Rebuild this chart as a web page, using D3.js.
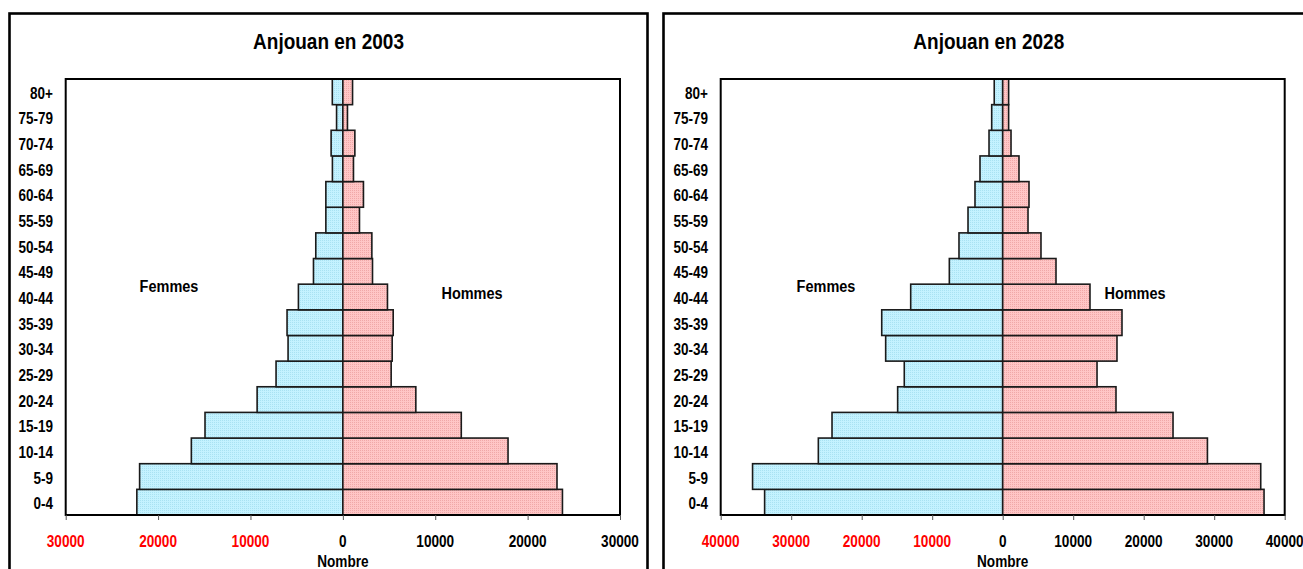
<!DOCTYPE html>
<html>
<head>
<meta charset="utf-8">
<script src="https://cdnjs.cloudflare.com/ajax/libs/d3/7.8.5/d3.min.js"></script>
<style>
  html, body { margin: 0; padding: 0; background: #fff; }
  svg { display: block; }
  text { font-family: "Liberation Sans", Arial, sans-serif; font-weight: bold; }
</style>
</head>
<body>
<svg id="chart" width="1303" height="569"></svg>
<script>
// ---- Data ----
const ageGroups = ["0-4","5-9","10-14","15-19","20-24","25-29","30-34","35-39","40-44","45-49","50-54","55-59","60-64","65-69","70-74","75-79","80+"];
const femmes2003 = [22300, 22000, 16400, 14920, 9280, 7230, 5930, 6040, 4810, 3180, 2930, 1840, 1840, 1130, 1270, 680, 1140];
const hommes2003 = [23770, 23180, 17880, 12820, 7900, 5230, 5340, 5450, 4830, 3210, 3140, 1800, 2230, 1150, 1300, 500, 1050];
const femmes2028 = [33770, 35480, 26150, 24210, 14900, 13960, 16600, 17160, 13050, 7570, 6200, 4920, 3930, 3220, 1940, 1560, 1200];
const hommes2028 = [37070, 36600, 29040, 24160, 16070, 13380, 16210, 16920, 12380, 7560, 5430, 3590, 3730, 2310, 1180, 840, 840];
const titles = ["Anjouan en 2003", "Anjouan en 2028"];
const axisMax = [30000, 40000];
const tickStep = 10000;
const labelFemmes = "Femmes", labelHommes = "Hommes", labelAxis = "Nombre";

const svg = d3.select("#chart");
const S = 1.2; // vertical stretch of text seen in the reference

// patterns
const defs = svg.append("defs");
function pattern(id, base, dot) {
  const p = defs.append("pattern").attr("id", id).attr("width", 2).attr("height", 2)
    .attr("patternUnits", "userSpaceOnUse");
  p.append("rect").attr("width", 2).attr("height", 2).attr("fill", base);
  p.append("rect").attr("width", 1).attr("height", 1).attr("fill", dot);
}
pattern("pF", "#c4f2ff", "#a9e2f2");
pattern("pH", "#ffc6c6", "#f0a8a8");

function stext(g, x, y, str, size, anchor, fill) {
  return g.append("text")
    .attr("transform", `translate(${x},${y}) scale(1,${S})`)
    .attr("text-anchor", anchor || "middle")
    .attr("font-size", size)
    .attr("fill", fill || "#000")
    .text(str);
}

const panels = [
  { frame: [9.5, 647.5], plot: [65.7, 620], max: axisMax[0], title: titles[0],
    f: femmes2003, h: hommes2003, femmesX: 169, hommesX: 472 },
  { frame: [663.5, 1314], plot: [720.7, 1284.7], max: axisMax[1], title: titles[1],
    f: femmes2028, h: hommes2028, femmesX: 826, hommesX: 1135 }
];
const plotTop = 79, plotBottom = 515;

panels.forEach(p => {
  const g = svg.append("g");
  // outer frame
  g.append("rect")
    .attr("x", p.frame[0]).attr("y", 13.5)
    .attr("width", p.frame[1] - p.frame[0]).attr("height", 600)
    .attr("fill", "#fff").attr("stroke", "#000").attr("stroke-width", 2.6);

  const x = d3.scaleLinear().domain([-p.max, p.max]).range(p.plot);
  const y = d3.scaleBand().domain(ageGroups.slice().reverse()).range([plotTop, plotBottom]).padding(0);

  // title
  stext(g, (p.frame[0] + p.frame[1]) / 2, 49, p.title, 19);

  // bars
  g.selectAll(".bf").data(ageGroups).join("rect")
    .attr("x", (d, i) => x(-p.f[i]))
    .attr("y", d => y(d))
    .attr("width", (d, i) => x(0) - x(-p.f[i]))
    .attr("height", y.bandwidth())
    .attr("fill", "url(#pF)").attr("stroke", "#1a1a1a").attr("stroke-width", 1.6);
  g.selectAll(".bh").data(ageGroups).join("rect")
    .attr("x", x(0))
    .attr("y", d => y(d))
    .attr("width", (d, i) => x(p.h[i]) - x(0))
    .attr("height", y.bandwidth())
    .attr("fill", "url(#pH)").attr("stroke", "#1a1a1a").attr("stroke-width", 1.6);

  // plot border
  g.append("rect")
    .attr("x", p.plot[0]).attr("y", plotTop)
    .attr("width", p.plot[1] - p.plot[0]).attr("height", plotBottom - plotTop)
    .attr("fill", "none").attr("stroke", "#000").attr("stroke-width", 2);

  // x axis
  const ticks = d3.range(-p.max, p.max + 1, tickStep);
  const ax = g.append("g").attr("transform", `translate(0,${plotBottom})`)
    .call(d3.axisBottom(x).tickValues(ticks).tickSize(5).tickFormat(""));
  ax.select(".domain").remove();
  ax.selectAll(".tick line").attr("stroke", "#555").attr("stroke-width", 1);
  ticks.forEach(t => {
    stext(g, x(t), 547, d3.format("d")(Math.abs(t)), 13.6, "middle", t < 0 ? "#ff0000" : "#000");
  });
  stext(g, x(0), 567, labelAxis, 13.6);

  // category labels
  ageGroups.forEach(a => {
    stext(g, p.plot[0] - 12.7, y(a) + y.bandwidth() / 2 + 7, a, 13.5, "end");
  });

  // sex labels
  stext(g, p.femmesX, 292, labelFemmes, 14.5);
  stext(g, p.hommesX, 299, labelHommes, 14.5);
});
</script>
</body>
</html>
